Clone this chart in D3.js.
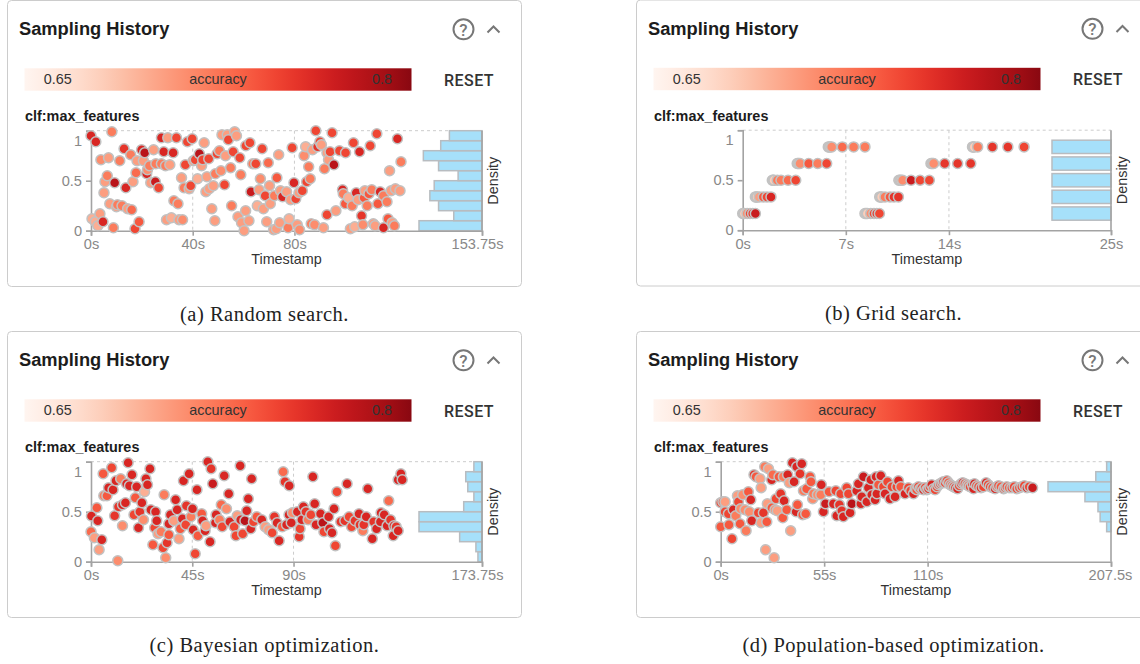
<!DOCTYPE html>
<html>
<head>
<meta charset="utf-8">
<script src="https://cdn.jsdelivr.net/npm/d3@7"></script>
<style>
  body { margin: 0; background: #fff; }
  svg { display: block; }
  text { font-family: 'Liberation Sans', Arial, sans-serif; }
</style>
</head>
<body>
<div id="chart"></div>
<script>
// each sample is [timestamp in s, clf:max_features, accuracy]
const randomSamples = [
  [0,.95,.77],[1.9,.89,.77],[8.2,.99,.72],[3.9,.71,.71],[6.9,.73,.70],[11.3,.70,.72],[13,.82,.76],[15.6,.76,.72],[18.1,.70,.70],[19.9,.81,.77],
  [21.1,.78,.79],[24.6,.81,.70],[28.6,.79,.77],[32.3,.78,.77],[27.7,.93,.77],[30.2,.93,.70],[33.6,.93,.75],[37.9,.89,.75],[39.8,.92,.75],[44.5,.88,.70],
  [51.5,.96,.70],[53.6,.96,.70],[56.5,.99,.70],[57.2,.95,.70],[54,.91,.75],[62.5,.88,.75],[60.9,.85,.75],[67.3,.82,.75],[79.1,.83,.75],[84.4,.84,.69],
  [88.4,1,.75],[94.8,.98,.75],[90,.89,.75],[89.1,.84,.76],[90.6,.86,.70],[87.1,.81,.70],[83.8,.75,.71],[92.8,.78,.70],[94,.79,.75],[97.7,.8,.75],
  [100.1,.78,.75],[103.2,.88,.75],[105.6,.79,.77],[109.8,.85,.75],[112.4,.97,.75],[120.5,.92,.77],[121.9,.69,.72],[117.4,.6,.70],[95.5,.66,.79],[91.8,.62,.72],
  [93.4,.71,.70],[85.6,.64,.72],[73.8,.76,.70],[69.7,.68,.73],[64.8,.67,.75],[63.6,.67,.72],[58.5,.73,.75],[55.9,.79,.75],[52.9,.75,.70],[50.5,.8,.72],
  [49.6,.77,.75],[46.3,.72,.75],[43.9,.71,.75],[42.6,.77,.79],[41,.71,.75],[40.2,.7,.70],[43.5,.65,.70],[37.1,.66,.75],[31,.66,.70],[29.3,.65,.72],
  [27.7,.67,.72],[25.5,.67,.72],[23,.65,.72],[20.6,.7,.70],[22.2,.61,.71],[21.9,.57,.77],[17.7,.58,.73],[6.4,.55,.72],[5.5,.49,.70],[9.3,.48,.79],
  [13.7,.43,.77],[16.5,.49,.70],[23.5,.48,.70],[25.3,.49,.78],[26.6,.43,.75],[35.6,.53,.70],[41.9,.52,.69],[45.6,.54,.70],[48.9,.57,.72],[51.1,.6,.71],
  [54.9,.63,.72],[58.9,.56,.72],[66.6,.52,.71],[73.1,.53,.74],[70.2,.45,.70],[79.8,.48,.77],[84.8,.49,.75],[86.2,.52,.72],[83.1,.4,.75],[81.8,.38,.70],
  [80.5,.32,.75],[78.5,.31,.70],[76.9,.39,.70],[74.5,.4,.70],[75.3,.34,.77],[72.1,.35,.72],[68.5,.35,.75],[66.1,.41,.70],[62.9,.39,.78],[70.5,.27,.70],
  [67.8,.22,.70],[65.4,.25,.69],[60.8,.2,.70],[55.3,.25,.72],[47.5,.22,.70],[52.5,.46,.75],[48.1,.45,.70],[46.5,.42,.70],[45.2,.39,.70],[39.2,.45,.75],
  [36.6,.43,.72],[38.6,.42,.70],[32.6,.3,.72],[34.2,.27,.72],[5.1,.38,.70],[7.4,.27,.70],[10.4,.26,.72],[10,.24,.70],[12.2,.25,.72],[14.4,.22,.70],
  [16,.21,.73],[3.5,.17,.70],[.4,.12,.69],[1.7,.09,.69],[4.7,.09,.77],[2.7,.05,.69],[8.8,.03,.72],[18.9,.09,.74],[17.3,.02,.75],[29.7,.11,.70],
  [31.6,.13,.69],[34.6,.11,.70],[36,.11,.71],[48.7,.1,.70],[57.8,.14,.70],[59.2,.08,.70],[62.1,.1,.70],[60.2,0,.70],[69.1,.09,.70],[71.8,.01,.70],
  [72.9,.02,.70],[74.2,.08,.70],[77.5,.03,.72],[77.9,.12,.69],[81.1,.06,.70],[82,.01,.71],[86.6,.07,.72],[87.9,.06,.71],[91.4,.03,.70],[92.8,.16,.75],
  [96.3,.2,.70],[98.9,.41,.77],[99.2,.37,.72],[101.3,.33,.69],[104.3,.38,.77],[100,.27,.74],[102.7,.25,.72],[105,.31,.70],[107.7,.4,.70],[110.4,.41,.72],
  [109.3,.37,.74],[107.4,.33,.74],[108.6,.25,.72],[113.7,.39,.77],[115,.35,.72],[116.4,.29,.72],[112.8,.27,.74],[118,.4,.70],[119.7,.42,.70],[121.5,.4,.70],
  [106.4,.15,.76],[102,.02,.70],[103.7,.04,.69],[106.9,.06,.71],[111,.07,.70],[111.7,.05,.70],[115,.03,.77],[116.8,.12,.74],[118.4,.08,.70],[119.3,.05,.72],
]
const gridSamples = [
  [0,.167,.67],[.06,.167,.67],[.12,.167,.67],[.3,.167,.71],[.5,.167,.75],[.68,.167,.76],[.86,.167,.78],
  [8.3,.167,.67],[8.38,.167,.67],[8.46,.167,.67],[8.69,.167,.71],[8.91,.167,.75],[9.1,.167,.76],[9.28,.167,.75],
  [.86,.333,.67],[.92,.333,.67],[.98,.333,.67],[1.13,.333,.70],[1.4,.333,.74],[1.65,.333,.75],[1.92,.333,.77],
  [9.3,.333,.67],[9.37,.333,.67],[9.43,.333,.67],[9.66,.333,.72],[10,.333,.74],[10.27,.333,.76],[10.57,.333,.76],
  [2.01,.5,.67],[2.07,.5,.67],[2.13,.5,.67],[2.35,.5,.72],[2.6,.5,.72],[3.08,.5,.73],[3.6,.5,.75],
  [10.6,.5,.67],[10.68,.5,.67],[10.75,.5,.67],[10.86,.5,.71],[11.43,.5,.78],[12.04,.5,.75],[12.67,.5,.75],
  [3.7,.667,.67],[3.76,.667,.67],[3.82,.667,.67],[3.89,.667,.71],[4.48,.667,.74],[5.09,.667,.72],[5.7,.667,.75],
  [12.78,.667,.67],[12.84,.667,.67],[12.9,.667,.67],[12.96,.667,.71],[13.71,.667,.76],[14.59,.667,.76],[15.48,.667,.76],
  [5.81,.833,.67],[5.87,.833,.67],[5.93,.833,.67],[6.04,.833,.71],[6.76,.833,.73],[7.53,.833,.72],[8.3,.833,.72],
  [15.6,.833,.67],[15.66,.833,.67],[15.72,.833,.67],[15.95,.833,.72],[16.95,.833,.76],[18,.833,.76],[19.1,.833,.75],
]
const bayesianSamples = [
  [.2,.457,.77],[0,.3,.73],[1.5,.24,.70],[4.8,.22,.77],[3.6,.12,.70],[3,.41,.77],[2.6,.54,.74],[5.4,.88,.74],[9.2,.94,.75],[5.7,.66,.72],
  [7.1,.66,.74],[7.8,.74,.77],[9.8,.72,.77],[11.1,.81,.77],[13.2,.83,.72],[16.5,.99,.77],[18.2,.87,.77],[15.8,.78,.77],[17.1,.76,.77],[20.3,.75,.77],
  [24.4,.83,.77],[26.2,.93,.77],[25.1,.77,.77],[23.8,.7,.69],[19.7,.64,.74],[22.6,.59,.77],[15.3,.59,.77],[14,.57,.77],[12.2,.55,.76],[10.5,.46,.76],
  [14,.36,.71],[11.9,.01,.71],[19.1,.47,.75],[21.7,.5,.76],[23.3,.42,.71],[21.1,.34,.77],[26.6,.52,.77],[28.7,.5,.77],[29.2,.41,.77],[28.3,.34,.75],
  [29.8,.28,.70],[31.1,.3,.72],[27.5,.17,.74],[32,.14,.75],[33.8,.19,.76],[34.6,.27,.74],[33.2,.04,.71],[32.5,.67,.72],[37.6,.62,.77],[35.3,.47,.77],
  [38.3,.52,.77],[34.6,.38,.77],[36.8,.41,.70],[39.1,.23,.70],[39.7,.33,.74],[40.6,.43,.77],[42.4,.56,.76],[45.1,.53,.77],[41.1,.81,.77],[43.6,.88,.77],
  [47.1,.72,.77],[51.9,1,.77],[53.4,.93,.76],[54.1,.78,.78],[59.2,.86,.77],[66.3,.96,.77],[71.4,.83,.77],[61.2,.68,.77],[69.9,.63,.77],[57.9,.57,.73],
  [60.2,.53,.71],[44.4,.45,.72],[42.1,.37,.75],[45.4,.32,.77],[47.5,.26,.74],[46.3,.08,.75],[52.9,.2,.77],[49.2,.48,.74],[49.6,.41,.77],[51.1,.36,.70],
  [50.7,.31,.77],[55.6,.47,.77],[57.1,.42,.72],[55.3,.39,.77],[58.3,.35,.75],[61.7,.4,.77],[65,.46,.70],[63.6,.35,.75],[64.4,.26,.75],[67.4,.28,.75],
  [68.4,.41,.79],[69.2,.51,.77],[66.5,.42,.77],[71,.33,.77],[73.7,.45,.74],[72.2,.4,.75],[75.9,.42,.77],[77.4,.35,.70],[78.9,.32,.70],[80.5,.29,.75],
  [81.5,.45,.76],[83.6,.21,.77],[82.7,.39,.77],[85,.35,.74],[86.9,.37,.77],[89,.39,.77],[88,.47,.77],[89.5,.49,.71],[91.7,.5,.77],[85.4,.9,.73],
  [86.2,.8,.76],[88.1,.76,.77],[98.6,.85,.77],[109.3,.7,.75],[113.8,.78,.77],[123,.73,.77],[132.3,.61,.73],[137.7,.88,.77],[136.5,.82,.77],[138.3,.82,.77],
  [94.4,.55,.77],[99.4,.58,.77],[95.5,.5,.76],[93.7,.42,.77],[92.9,.33,.75],[92.5,.25,.76],[97.7,.47,.75],[96.5,.42,.72],[100,.37,.77],[102,.48,.77],
  [103,.39,.79],[103.5,.3,.75],[105.6,.45,.77],[106,.33,.77],[107.1,.29,.77],[108,.53,.77],[108.6,.16,.75],[111,.4,.76],[112.8,.41,.76],[114.7,.45,.75],
  [115.8,.35,.75],[117.3,.41,.76],[119.1,.48,.77],[120.8,.31,.72],[119.5,.37,.76],[122.3,.45,.77],[121.2,.37,.76],[125,.23,.77],[125.6,.4,.76],[126.9,.33,.77],
  [128.9,.49,.77],[130.3,.47,.77],[128.6,.4,.77],[131.6,.36,.77],[133.1,.42,.76],[134.6,.36,.77],[134.3,.26,.77],[135.6,.35,.76],[136.5,.31,.77],
]
const populationSamples = [
  [0,.59,.75],[1.2,.6,.74],[2.3,.6,.70],[0,.35,.74],[4.4,.37,.74],[6,.23,.75],[2.3,.5,.75],[4.1,.48,.75],[6.7,.52,.77],[8,.46,.72],
  [10.3,.38,.74],[13.5,.31,.72],[8.9,.66,.70],[11.7,.67,.71],[9.4,.6,.75],[14.7,.7,.74],[16,.62,.77],[10.6,.53,.71],[12.9,.52,.71],[15.2,.5,.71],
  [16.5,.41,.77],[20,.49,.75],[22.7,.49,.76],[21.5,.39,.70],[24.5,.4,.74],[17.7,.87,.76],[18.8,.85,.74],[20.9,.83,.70],[21.5,.74,.70],[23.4,.95,.72],
  [25.4,.93,.70],[27.7,.87,.73],[27.1,.82,.77],[31,.85,.74],[33.3,.85,.72],[35.6,.87,.77],[36.5,.79,.70],[39,.8,.77],[38.1,.99,.77],[43.1,.98,.77],
  [40.4,.95,.77],[42.2,.88,.76],[47.5,.85,.74],[48,.8,.74],[44,.71,.72],[45.7,.73,.74],[31.9,.68,.76],[29.4,.63,.75],[33.7,.61,.77],[24.8,.58,.70],
  [27.2,.54,.74],[28.9,.52,.71],[30.1,.51,.70],[35.1,.52,.74],[33,.44,.74],[37.2,.31,.70],[23.9,.12,.70],[28.4,.04,.70],[40.1,.5,.77],[40.8,.57,.74],
  [43.6,.47,.74],[45.2,.48,.74],[48.9,.63,.71],[49.3,.68,.72],[51.4,.67,.71],[53.5,.77,.77],[53.2,.67,.72],[54.6,.5,.77],[55.7,.58,.78],[57.6,.7,.74],
  [59.9,.58,.77],[61.2,.71,.75],[63.1,.57,.76],[63.8,.68,.75],[61.7,.46,.77],[64.4,.51,.76],[65.2,.45,.77],[68.8,.49,.77],[69.7,.58,.79],[67,.74,.75],
  [67.9,.68,.75],[72.3,.71,.77],[73.2,.78,.77],[74.5,.58,.77],[75.9,.85,.78],[75,.65,.77],[77.7,.6,.77],[78.5,.74,.77],[79.8,.82,.77],[80.3,.67,.77],
  [82.1,.62,.77],[83,.68,.77],[82.6,.85,.77],[85.1,.86,.77],[83.9,.77,.74],[86.5,.75,.75],[87.4,.68,.77],[88.7,.8,.75],[90,.63,.77],[91,.75,.75],
  [92.7,.65,.77],[94.5,.81,.77],[93.6,.75,.75],[95.7,.75,.74],[98,.68,.77],[99.8,.74,.75],[101,.71,.75],[102.5,.68,.77],[103.4,.73,.72],[104.2,.72,.74],
  [105.1,.75,.75],[106,.73,.74],[106.9,.74,.75],[107.8,.72,.77],[108.7,.74,.75],[109.6,.72,.75],[110.5,.73,.76],[111.3,.75,.75],[112.2,.77,.77],[113.1,.73,.75],
  [114,.72,.75],[115,.75,.75],[115.8,.77,.75],[116.7,.78,.75],[117.6,.79,.75],[118.4,.8,.77],[119.3,.79,.75],[120.2,.81,.75],[121.1,.79,.74],[122,.77,.75],
  [122.9,.76,.74],[123.8,.75,.75],[124.8,.74,.76],[125.9,.73,.77],[126.8,.76,.75],[127.8,.78,.76],[128.7,.79,.77],[129.8,.78,.75],[130.9,.77,.75],[131.7,.76,.74],
  [132.6,.75,.75],[133.8,.77,.76],[134.9,.78,.77],[134.4,.73,.77],[136,.76,.75],[137.1,.75,.75],[138.4,.74,.76],[139.7,.75,.75],[141.1,.79,.77],[142.2,.77,.75],
  [143.3,.75,.75],[144.6,.74,.75],[145.9,.73,.77],[146.8,.75,.74],[147.7,.76,.75],[149,.75,.74],[150.4,.73,.75],[151.2,.74,.75],[152.1,.75,.75],[153.4,.74,.74],
  [154.8,.74,.75],[156,.75,.75],[157.4,.73,.75],[158.8,.74,.75],[160.1,.75,.75],[161.4,.76,.75],[162.8,.74,.77],[164,.75,.75],[165.8,.74,.78],
]

const tenthBins = [0, .1, .2, .3, .4, .5, .6, .7, .8, .9]
const gridBins = [.1, .267, .433, .6, .767]
const randomCounts = [29, 13, 20, 24, 22, 11, 20, 27, 19, 15]
const gridCounts = [14, 14, 14, 14, 14]
const bayesianCounts = [2, 3, 11, 31, 31, 9, 4, 7, 8, 4]
const populationCounts = [0, 0, 0, 2, 5, 6, 12, 29, 7, 2]

const randomTicks = [0, 40, 80, 153.75]
const gridTicks = [0, 7, 14, 25]
const bayesianTicks = [0, 45, 90, 173.75]
const populationTicks = [0, 55, 110, 207.5]
const featureTicks = [0, .5, 1]

const captions = [
  '(a) Random search.',
  '(b) Grid search.',
  '(c) Bayesian optimization.',
  '(d) Population-based optimization.',
]
const legendTicks = ['0.65', 'accuracy', '0.8']

const accuracyDomain = [.6345, .8137]
const colorScale = d3
  .scaleSequential(t => d3.interpolateReds(t * .93))
  .domain(accuracyDomain)

const svg = d3
  .select('#chart')
  .append('svg')
  .attr('width', 1140)
  .attr('height', 664)

const gradient = svg
  .append('defs')
  .append('linearGradient')
  .attr('id', 'accuracy-gradient')
gradient
  .selectAll('stop')
  .data(d3.range(0, 1.01, .05))
  .join('stop')
  .attr('offset', d => `${d * 100}%`)
  .attr('stop-color', d => colorScale(accuracyDomain[0] + d * (accuracyDomain[1] - accuracyDomain[0])))

const panels = [
  { dx: 0, dy: 0, plotLeft: 91, samples: randomSamples, bins: tenthBins, binWidth: .1, counts: randomCounts, maxBar: 63, ticks: randomTicks, caption: captions[0], endLabelShift: -5 },
  { dx: 629, dy: -.5, plotLeft: 113.7, samples: gridSamples, bins: gridBins, binWidth: .133, counts: gridCounts, maxBar: 59, ticks: gridTicks, caption: captions[1], endLabelShift: 0 },
  { dx: 0, dy: 331, plotLeft: 91, samples: bayesianSamples, bins: tenthBins, binWidth: .1, counts: bayesianCounts, maxBar: 63, ticks: bayesianTicks, caption: captions[2], endLabelShift: -5 },
  { dx: 629, dy: 331, plotLeft: 91.7, samples: populationSamples, bins: tenthBins, binWidth: .1, counts: populationCounts, maxBar: 63, ticks: populationTicks, caption: captions[3], endLabelShift: -1 },
]

panels.forEach(renderPanel)

function renderPanel(panel) {
  const g = svg.append('g').attr('transform', `translate(${panel.dx},${panel.dy})`)
  renderCard(g, panel)
  renderLegend(g)
  renderPlot(g, panel)
}

function renderCard(g, { caption }) {
  g.append('rect')
    .attr('x', 7.5)
    .attr('y', .5)
    .attr('width', 514)
    .attr('height', 286)
    .attr('rx', 4)
    .attr('fill', '#fff')
    .attr('stroke', '#ccc')

  g.append('text')
    .attr('x', 19)
    .attr('y', 35.3)
    .attr('font-size', 18.3)
    .attr('font-weight', 700)
    .attr('fill', '#1c1c1c')
    .text('Sampling History')

  g.append('circle')
    .attr('cx', 463.5)
    .attr('cy', 29.3)
    .attr('r', 10)
    .attr('fill', 'none')
    .attr('stroke', '#777')
    .attr('stroke-width', 2)
  g.append('text')
    .attr('x', 463.5)
    .attr('y', 35.5)
    .attr('text-anchor', 'middle')
    .attr('font-size', 17)
    .attr('font-weight', 500)
    .attr('fill', '#777')
    .style('font-family', 'Roboto')
    .text('?')
  g.append('path')
    .attr('d', 'M487.5 32.5L493.5 26.5L499.5 32.5')
    .attr('fill', 'none')
    .attr('stroke', '#777')
    .attr('stroke-width', 2)

  g.append('text')
    .attr('x', 264.5)
    .attr('y', 320.5)
    .attr('text-anchor', 'middle')
    .attr('font-size', 20.5)
    .attr('fill', '#222')
    .style('font-family', 'Liberation Serif')
    .style('letter-spacing', '.5px')
    .text(caption)
}

function renderLegend(g) {
  g.append('rect')
    .attr('x', 24.5)
    .attr('y', 68.3)
    .attr('width', 387)
    .attr('height', 22.4)
    .attr('fill', 'url(#accuracy-gradient)')

  g.selectAll('.legend-label')
    .data(legendTicks)
    .join('text')
    .attr('class', 'legend-label')
    .attr('x', (d, i) => [57.7, 218, 382][i])
    .attr('y', 84)
    .attr('text-anchor', 'middle')
    .attr('font-size', 14.4)
    .attr('fill', '#333')
    .text(d => d)

  g.append('text')
    .attr('x', 469)
    .attr('y', 85.8)
    .attr('text-anchor', 'middle')
    .attr('font-size', 16)
    .attr('font-weight', 500)
    .attr('fill', '#333')
    .style('font-family', 'Roboto')
    .style('letter-spacing', '.5px')
    .text('RESET')

  g.append('text')
    .attr('x', 25)
    .attr('y', 121)
    .attr('font-size', 14.4)
    .attr('font-weight', 700)
    .attr('fill', '#1c1c1c')
    .text('clf:max_features')
}

function renderPlot(g, { plotLeft, samples, bins, binWidth, counts, maxBar, ticks, endLabelShift }) {
  const plotRight = 482
  const plotTop = 130.7
  const plotBottom = 230.7
  const axisColor = '#a3a3a3'
  const labelColor = '#888'

  const x = d3.scaleLinear().domain([0, ticks[ticks.length - 1]]).range([plotLeft, plotRight])
  const y = d3.scaleLinear().domain([0, 1]).range([plotBottom, plotTop])
  const density = d3.scaleLinear().domain([0, d3.max(counts)]).range([0, maxBar])

  // dashed frame: top border and the two inner time ticks
  g.append('line')
    .attr('x1', plotLeft)
    .attr('x2', plotRight)
    .attr('y1', plotTop)
    .attr('y2', plotTop)
    .attr('stroke', '#ccc')
    .attr('stroke-dasharray', '3,3')
  g.selectAll('.grid-line')
    .data(ticks.slice(1, -1))
    .join('line')
    .attr('class', 'grid-line')
    .attr('x1', d => x(d))
    .attr('x2', d => x(d))
    .attr('y1', plotTop)
    .attr('y2', plotBottom)
    .attr('stroke', '#ccc')
    .attr('stroke-dasharray', '3,3')

  g.selectAll('.hist-bar')
    .data(bins.map((start, i) => ({ start, count: counts[i] })).filter(d => d.count > 0))
    .join('rect')
    .attr('class', 'hist-bar')
    .attr('x', d => plotRight - density(d.count))
    .attr('y', d => y(d.start + binWidth))
    .attr('width', d => density(d.count))
    .attr('height', d => y(d.start) - y(d.start + binWidth))
    .attr('fill', '#a6e0fa')
    .attr('stroke', '#b8bcc0')
    .attr('stroke-width', 1.5)

  const xAxis = g
    .append('g')
    .attr('transform', `translate(0,${plotBottom})`)
    .call(d3.axisBottom(x).tickValues(ticks).tickFormat(d => `${d}s`).tickSize(5).tickPadding(3))
  const yAxis = g
    .append('g')
    .attr('transform', `translate(${plotLeft},0)`)
    .call(d3.axisLeft(y).tickValues(featureTicks).tickFormat(d3.format('~g')).tickSize(5).tickPadding(4))

  ;[xAxis, yAxis].forEach(axis => {
    axis.selectAll('path, line').attr('stroke', axisColor).attr('stroke-width', 1.6)
    axis.selectAll('text').attr('fill', labelColor).attr('font-size', 14.6).style('font-family', 'Liberation Sans')
  })
  xAxis.selectAll('text').filter(d => d === ticks[ticks.length - 1]).attr('dx', endLabelShift)
  yAxis.selectAll('text').filter(d => d === 1).attr('dy', '1em')

  g.append('line')
    .attr('x1', plotRight)
    .attr('x2', plotRight)
    .attr('y1', plotTop)
    .attr('y2', plotBottom)
    .attr('stroke', axisColor)
    .attr('stroke-width', 1.6)

  g.selectAll('.sample')
    .data(samples.slice().sort((a, b) => d3.ascending(a[0], b[0])))
    .join('circle')
    .attr('class', 'sample')
    .attr('cx', d => x(d[0]))
    .attr('cy', d => y(d[1]))
    .attr('r', 5)
    .attr('fill', d => colorScale(d[2]))
    .attr('stroke', '#c2c2c2')
    .attr('stroke-width', 1.5)

  g.append('text')
    .attr('x', (plotLeft + plotRight) / 2)
    .attr('y', 264)
    .attr('text-anchor', 'middle')
    .attr('font-size', 14.4)
    .attr('fill', '#333')
    .text('Timestamp')

  g.append('text')
    .attr('transform', `translate(${plotRight + 16},${(plotTop + plotBottom) / 2}) rotate(-90)`)
    .attr('text-anchor', 'middle')
    .attr('font-size', 14.4)
    .attr('fill', '#333')
    .text('Density')
}
</script>
</body>
</html>
